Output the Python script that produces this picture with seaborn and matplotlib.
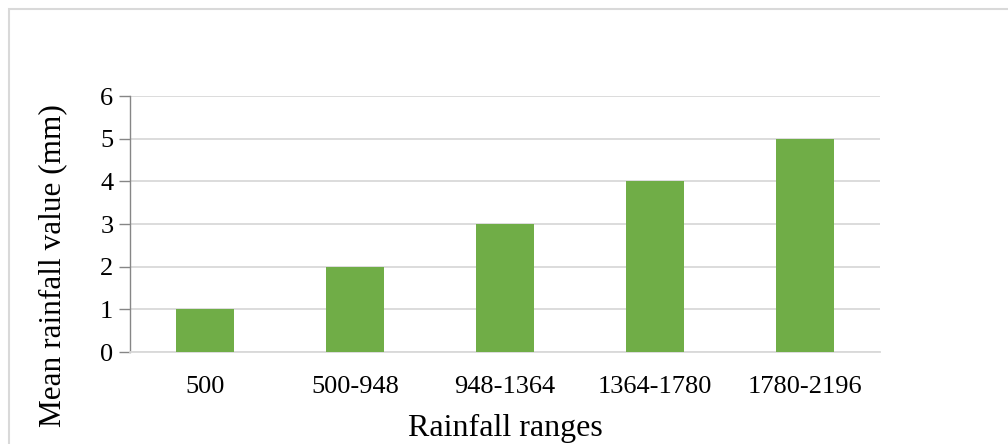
import matplotlib
matplotlib.use("Agg")
import matplotlib.pyplot as plt
import seaborn as sns
import pandas as pd
from matplotlib.patches import Rectangle

categories = ["500", "500-948", "948-1364", "1364-1780", "1780-2196"]
values = [1, 2, 3, 4, 5]
yticks = [0, 1, 2, 3, 4, 5, 6]

sns.set_theme(style="white")
plt.rcParams['font.family'] = ['Liberation Serif', 'DejaVu Serif']
plt.rcParams['text.color'] = 'black'
plt.rcParams['axes.labelcolor'] = 'black'
plt.rcParams['xtick.color'] = 'black'
plt.rcParams['ytick.color'] = 'black'

df = pd.DataFrame({"range": categories, "value": values})

fig = plt.figure(figsize=(10.08, 4.44), dpi=100)
ax = fig.add_axes([130/1008, 1-352/444, 750/1008, 256/444])

sns.barplot(data=df, x="range", y="value", color="#70AD47", width=0.39,
            saturation=1, ax=ax, zorder=3, linewidth=0, edgecolor="none")

ax.set_ylim(0, 6)
ax.set_xlim(-0.5, 4.5)
ax.set_yticks(yticks)
ax.yaxis.grid(True, color="#D9D9D9", linewidth=1.3, zorder=0)
ax.set_axisbelow(True)
for s in ["top", "right"]:
    ax.spines[s].set_visible(False)
ax.spines["left"].set_color("#868686")
ax.spines["left"].set_linewidth(1.0)
ax.spines["bottom"].set_color("#D9D9D9")
ax.spines["bottom"].set_linewidth(1.3)
ax.tick_params(axis="y", length=8, width=1.0, color="#868686", labelsize=19,
               pad=4, left=True, labelcolor="black")
ax.tick_params(axis="x", length=0, labelsize=19, pad=17, labelcolor="black")
ax.set_xlabel("Rainfall ranges", fontsize=23, labelpad=12, color="black")
ax.set_ylabel("Mean rainfall value (mm)", fontsize=22.5, color="black")
ax.yaxis.set_label_coords(-0.084, 0.336)

fig.patches.append(Rectangle((8.5/1008, -0.1), 2.0, 1 - 9.5/444 + 0.1,
                             transform=fig.transFigure, fill=False,
                             edgecolor="#D9D9D9", linewidth=1.5))

fig.savefig("out.png", dpi=100)
